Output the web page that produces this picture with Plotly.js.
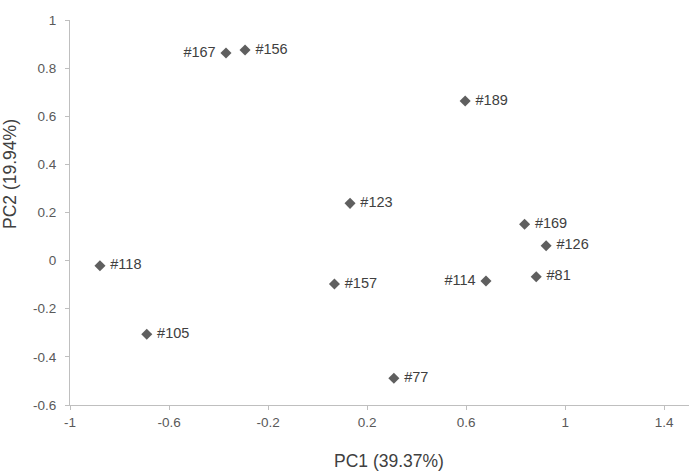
<!DOCTYPE html>
<html>
<head>
<meta charset="utf-8">
<script src="https://cdn.plot.ly/plotly-3.0.1.min.js"></script>
<style>
html,body{margin:0;padding:0;background:#fff;}
#chart{width:692px;height:472px;}
</style>
</head>
<body>
<div id="chart"></div>
<script>
const labels = ['#167','#156','#189','#123','#169','#126','#118','#157','#114','#81','#105','#77'];
const pc1 = [-0.370, -0.293, 0.596, 0.131, 0.836, 0.923, -0.879, 0.068, 0.680, 0.883, -0.690, 0.308];
const pc2 = [0.863, 0.875, 0.663, 0.238, 0.151, 0.062, -0.021, -0.097, -0.085, -0.067, -0.306, -0.489];
const xTicks = [-1, -0.6, -0.2, 0.2, 0.6, 1, 1.4];
const yTicks = [-0.6, -0.4, -0.2, 0, 0.2, 0.4, 0.6, 0.8, 1];
const xTitle = 'PC1 (39.37%)';
const yTitle = 'PC2 (19.94%)';

const leftSide = new Set(['#167', '#114']);
const isLeft = labels.map(l => leftSide.has(l));

const trace = {
  x: pc1,
  y: pc2,
  text: labels,
  mode: 'markers+text',
  type: 'scatter',
  texttemplate: isLeft.map(v => v ? '%{text}\u00a0' : '\u00a0%{text}'),
  textposition: isLeft.map(v => v ? 'middle left' : 'middle right'),
  textfont: {family: 'Liberation Sans, Arial, sans-serif', size: 14.5, color: '#404040'},
  marker: {symbol: 'diamond', size: 8.5, color: '#5f5f5f', line: {width: 0}},
  cliponaxis: false,
  hoverinfo: 'none'
};

const layout = {
  width: 692,
  height: 472,
  margin: {l: 70, r: 3, t: 20, b: 67},
  paper_bgcolor: '#ffffff',
  plot_bgcolor: '#ffffff',
  showlegend: false,
  font: {family: 'Liberation Sans, Arial, sans-serif', color: '#595959'},
  xaxis: {
    range: [-1, 1.5],
    tickvals: xTicks,
    ticktext: xTicks.map(String),
    showgrid: false,
    zeroline: false,
    showline: true,
    linecolor: '#bfbfbf',
    linewidth: 1,
    ticks: 'outside',
    ticklen: 4,
    tickcolor: '#bfbfbf',
    ticklabelstandoff: 1,
    tickfont: {size: 13.5, color: '#595959'},
    fixedrange: true
  },
  yaxis: {
    range: [-0.6, 1],
    tickvals: yTicks,
    ticktext: yTicks.map(String),
    showgrid: false,
    zeroline: false,
    showline: true,
    linecolor: '#bfbfbf',
    linewidth: 1,
    ticks: 'outside',
    ticklen: 4,
    tickcolor: '#bfbfbf',
    ticklabelstandoff: 6,
    tickfont: {size: 13.5, color: '#595959'},
    fixedrange: true
  },
  annotations: [
    {text: xTitle, xref: 'paper', yref: 'paper', x: 0.515, y: -0.145, showarrow: false,
     xanchor: 'center', yanchor: 'middle', font: {size: 17.5, color: '#404040'}},
    {text: yTitle, xref: 'paper', yref: 'paper', x: -0.097, y: 0.6, showarrow: false,
     textangle: -90, xanchor: 'center', yanchor: 'middle', font: {size: 17.5, color: '#404040'}}
  ]
};

Plotly.newPlot('chart', [trace], layout, {displayModeBar: false, staticPlot: true});
</script>
</body>
</html>
